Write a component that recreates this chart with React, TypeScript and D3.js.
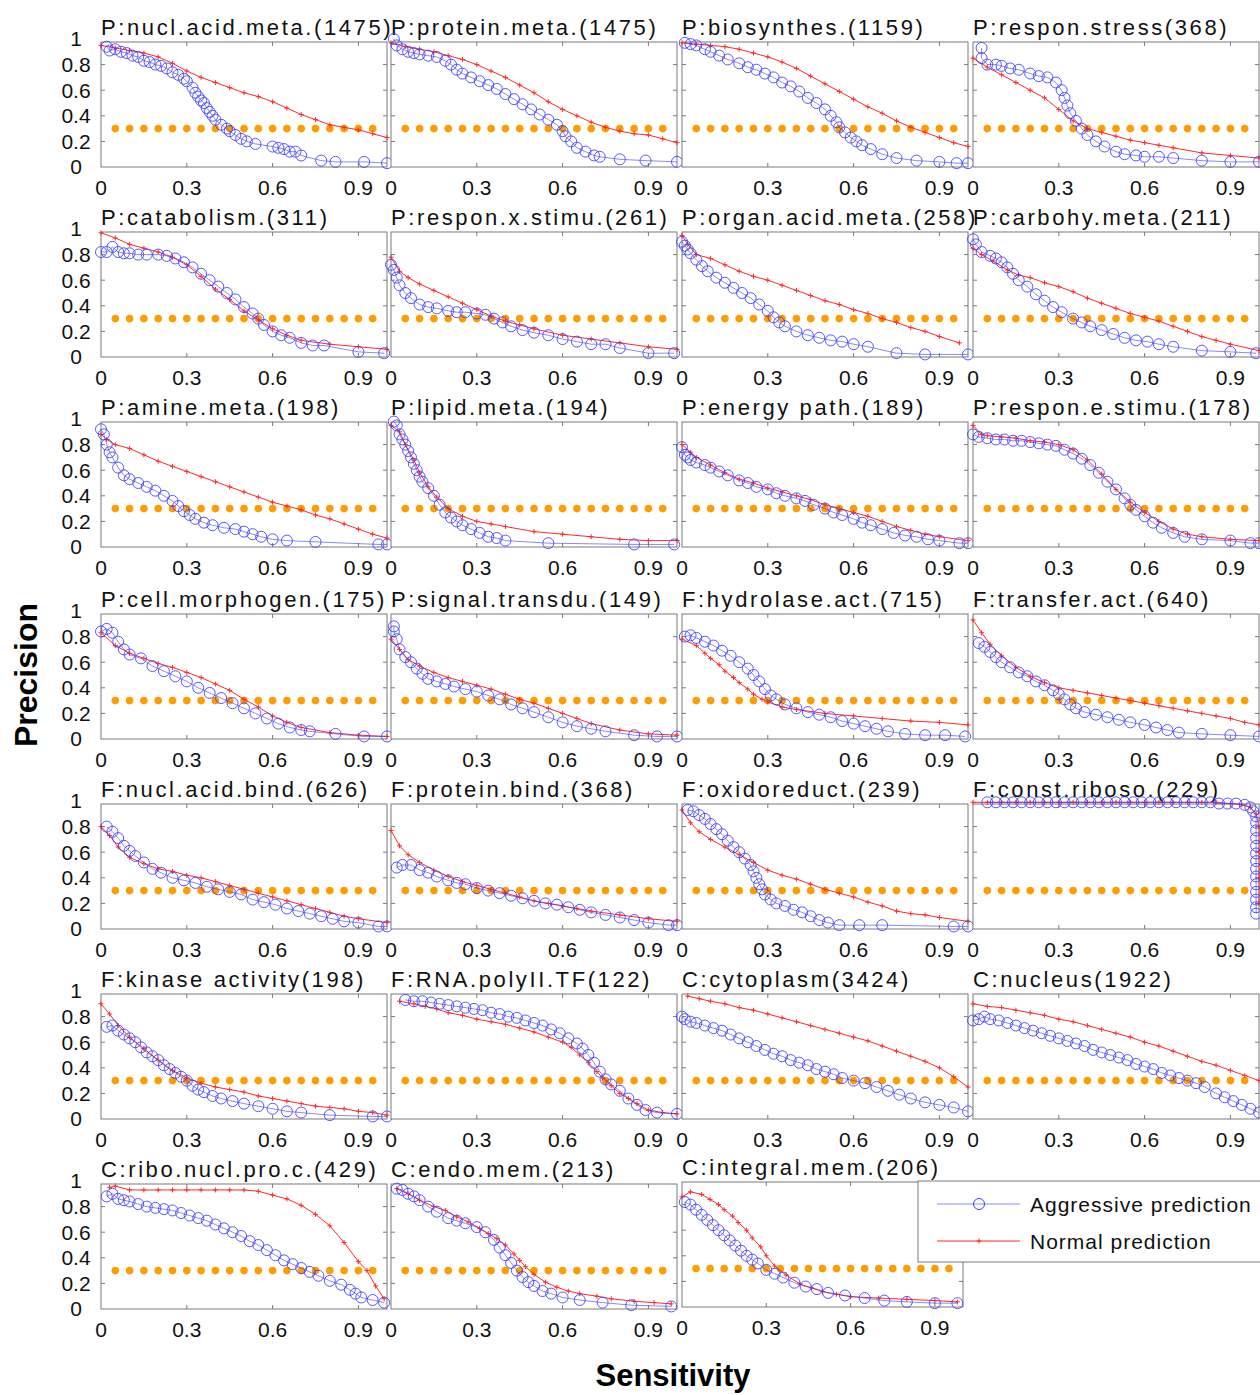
import React from 'react';
import * as d3 from 'd3';

// panel titles, row by row
const panelTitles = [
  'P:nucl.acid.meta.(1475)', 'P:protein.meta.(1475)', 'P:biosynthes.(1159)', 'P:respon.stress(368)',
  'P:catabolism.(311)', 'P:respon.x.stimu.(261)', 'P:organ.acid.meta.(258)', 'P:carbohy.meta.(211)',
  'P:amine.meta.(198)', 'P:lipid.meta.(194)', 'P:energy path.(189)', 'P:respon.e.stimu.(178)',
  'P:cell.morphogen.(175)', 'P:signal.transdu.(149)', 'F:hydrolase.act.(715)', 'F:transfer.act.(640)',
  'F:nucl.acid.bind.(626)', 'F:protein.bind.(368)', 'F:oxidoreduct.(239)', 'F:const.riboso.(229)',
  'F:kinase activity(198)', 'F:RNA.polyII.TF(122)', 'C:cytoplasm(3424)', 'C:nucleus(1922)',
  'C:ribo.nucl.pro.c.(429)', 'C:endo.mem.(213)', 'C:integral.mem.(206)',
];

// aggressive prediction: [sensitivity, precision]
const aggressive: number[][][] = [
  [[0.02,0.94],[0.03,0.91],[0.05,0.92],[0.07,0.9],[0.09,0.89],[0.11,0.87],[0.13,0.86],[0.15,0.83],[0.17,0.82],[0.19,0.8],[0.21,0.79],[0.23,0.77],[0.25,0.74],[0.27,0.72],[0.29,0.69],[0.3,0.67],[0.32,0.62],[0.33,0.58],[0.34,0.55],[0.35,0.52],[0.36,0.5],[0.37,0.46],[0.38,0.43],[0.39,0.4],[0.4,0.37],[0.42,0.33],[0.44,0.3],[0.45,0.28],[0.47,0.25],[0.49,0.22],[0.51,0.2],[0.54,0.18],[0.6,0.16],[0.62,0.15],[0.64,0.14],[0.66,0.12],[0.68,0.12],[0.7,0.09],[0.77,0.05],[0.82,0.04],[0.92,0.04],[1.0,0.03]],
  [[0.01,1.0],[0.02,0.95],[0.04,0.92],[0.06,0.9],[0.08,0.89],[0.1,0.88],[0.13,0.87],[0.16,0.86],[0.19,0.83],[0.21,0.8],[0.23,0.76],[0.25,0.73],[0.28,0.7],[0.31,0.67],[0.34,0.64],[0.37,0.61],[0.4,0.57],[0.43,0.53],[0.46,0.49],[0.49,0.45],[0.52,0.41],[0.55,0.37],[0.58,0.33],[0.6,0.28],[0.61,0.24],[0.63,0.2],[0.65,0.15],[0.68,0.12],[0.71,0.09],[0.73,0.08],[0.8,0.06],[0.89,0.05],[1.0,0.04]],
  [[0.01,0.97],[0.03,0.96],[0.05,0.95],[0.08,0.92],[0.1,0.9],[0.13,0.87],[0.16,0.84],[0.2,0.81],[0.23,0.78],[0.26,0.76],[0.29,0.73],[0.32,0.7],[0.35,0.66],[0.38,0.63],[0.41,0.59],[0.44,0.54],[0.47,0.5],[0.5,0.45],[0.52,0.4],[0.54,0.35],[0.55,0.31],[0.57,0.27],[0.59,0.23],[0.61,0.2],[0.63,0.17],[0.66,0.14],[0.7,0.1],[0.75,0.07],[0.82,0.05],[0.9,0.04],[0.96,0.03],[1.0,0.03]],
  [[0.03,0.93],[0.03,0.85],[0.05,0.8],[0.08,0.8],[0.1,0.79],[0.13,0.77],[0.16,0.76],[0.2,0.73],[0.23,0.71],[0.26,0.7],[0.29,0.66],[0.31,0.6],[0.32,0.54],[0.33,0.48],[0.34,0.42],[0.36,0.36],[0.38,0.3],[0.4,0.25],[0.43,0.2],[0.46,0.16],[0.5,0.12],[0.53,0.1],[0.57,0.09],[0.6,0.08],[0.65,0.08],[0.7,0.07],[0.8,0.05],[0.9,0.04],[1.0,0.04]],
  [[0.0,0.82],[0.02,0.82],[0.04,0.86],[0.06,0.82],[0.08,0.81],[0.1,0.81],[0.13,0.8],[0.16,0.8],[0.2,0.8],[0.23,0.79],[0.26,0.77],[0.29,0.74],[0.32,0.7],[0.35,0.65],[0.38,0.6],[0.41,0.55],[0.44,0.5],[0.47,0.45],[0.5,0.39],[0.53,0.34],[0.55,0.3],[0.57,0.25],[0.6,0.2],[0.63,0.17],[0.66,0.15],[0.7,0.11],[0.74,0.09],[0.78,0.09],[0.9,0.04],[0.99,0.03]],
  [[0.0,0.72],[0.01,0.68],[0.02,0.62],[0.03,0.56],[0.05,0.5],[0.07,0.46],[0.1,0.41],[0.13,0.39],[0.16,0.38],[0.2,0.36],[0.23,0.35],[0.26,0.35],[0.3,0.34],[0.33,0.33],[0.36,0.3],[0.39,0.27],[0.42,0.24],[0.46,0.21],[0.5,0.19],[0.55,0.17],[0.6,0.14],[0.65,0.12],[0.7,0.1],[0.75,0.1],[0.8,0.07],[0.9,0.03],[0.99,0.03]],
  [[0.0,0.9],[0.01,0.87],[0.02,0.84],[0.03,0.81],[0.05,0.76],[0.07,0.71],[0.09,0.67],[0.12,0.62],[0.15,0.58],[0.18,0.54],[0.21,0.5],[0.24,0.46],[0.27,0.41],[0.3,0.36],[0.32,0.31],[0.34,0.27],[0.36,0.24],[0.4,0.2],[0.44,0.17],[0.48,0.15],[0.52,0.13],[0.56,0.12],[0.6,0.1],[0.65,0.08],[0.75,0.03],[0.85,0.02],[1.0,0.02]],
  [[0.0,0.92],[0.01,0.88],[0.03,0.82],[0.06,0.79],[0.08,0.77],[0.1,0.74],[0.12,0.7],[0.14,0.65],[0.16,0.6],[0.19,0.55],[0.22,0.49],[0.25,0.44],[0.28,0.39],[0.31,0.35],[0.35,0.3],[0.38,0.27],[0.41,0.24],[0.45,0.21],[0.49,0.18],[0.53,0.15],[0.57,0.13],[0.61,0.12],[0.65,0.1],[0.7,0.08],[0.8,0.05],[0.9,0.04],[0.99,0.03]],
  [[0.0,0.92],[0.01,0.88],[0.02,0.8],[0.03,0.74],[0.04,0.7],[0.06,0.62],[0.08,0.56],[0.1,0.53],[0.13,0.5],[0.16,0.47],[0.19,0.44],[0.22,0.4],[0.25,0.36],[0.27,0.32],[0.29,0.28],[0.31,0.25],[0.33,0.22],[0.36,0.19],[0.39,0.17],[0.43,0.15],[0.47,0.14],[0.5,0.12],[0.53,0.1],[0.56,0.08],[0.6,0.06],[0.65,0.05],[0.75,0.04],[0.97,0.02],[1.0,0.02]],
  [[0.01,0.98],[0.02,0.95],[0.03,0.88],[0.04,0.84],[0.05,0.8],[0.06,0.75],[0.07,0.7],[0.08,0.65],[0.09,0.6],[0.1,0.55],[0.11,0.51],[0.13,0.46],[0.15,0.4],[0.17,0.33],[0.19,0.27],[0.21,0.23],[0.23,0.2],[0.25,0.17],[0.28,0.14],[0.31,0.11],[0.34,0.08],[0.37,0.07],[0.4,0.05],[0.55,0.03],[0.85,0.02],[0.99,0.02]],
  [[0.0,0.78],[0.01,0.72],[0.02,0.7],[0.03,0.68],[0.05,0.66],[0.08,0.64],[0.1,0.62],[0.13,0.59],[0.16,0.56],[0.2,0.52],[0.23,0.5],[0.26,0.47],[0.3,0.45],[0.33,0.42],[0.36,0.4],[0.4,0.38],[0.43,0.36],[0.46,0.33],[0.5,0.3],[0.53,0.27],[0.56,0.25],[0.6,0.22],[0.63,0.19],[0.66,0.17],[0.7,0.14],[0.74,0.11],[0.78,0.09],[0.82,0.08],[0.86,0.06],[0.9,0.05],[0.97,0.03],[1.0,0.03]],
  [[0.0,0.88],[0.02,0.86],[0.05,0.85],[0.08,0.84],[0.11,0.84],[0.14,0.83],[0.17,0.83],[0.2,0.82],[0.23,0.81],[0.26,0.8],[0.29,0.79],[0.32,0.76],[0.35,0.73],[0.38,0.69],[0.41,0.64],[0.44,0.58],[0.47,0.51],[0.5,0.45],[0.53,0.38],[0.55,0.33],[0.57,0.29],[0.6,0.24],[0.63,0.19],[0.66,0.15],[0.7,0.11],[0.74,0.08],[0.8,0.06],[0.9,0.05],[0.97,0.03],[1.0,0.03]],
  [[0.0,0.84],[0.02,0.86],[0.04,0.83],[0.06,0.76],[0.08,0.7],[0.1,0.66],[0.14,0.63],[0.18,0.57],[0.22,0.53],[0.26,0.49],[0.3,0.45],[0.34,0.4],[0.38,0.36],[0.42,0.32],[0.46,0.28],[0.5,0.24],[0.54,0.2],[0.58,0.16],[0.62,0.12],[0.66,0.09],[0.7,0.07],[0.73,0.06],[0.82,0.04],[0.92,0.02],[1.0,0.02]],
  [[0.01,0.88],[0.01,0.84],[0.02,0.78],[0.03,0.7],[0.05,0.64],[0.07,0.6],[0.09,0.55],[0.11,0.51],[0.13,0.47],[0.16,0.45],[0.19,0.43],[0.22,0.41],[0.26,0.39],[0.3,0.37],[0.34,0.34],[0.38,0.31],[0.42,0.27],[0.46,0.24],[0.5,0.21],[0.55,0.17],[0.6,0.13],[0.65,0.1],[0.7,0.08],[0.75,0.06],[0.85,0.03],[0.93,0.02],[1.0,0.02]],
  [[0.01,0.8],[0.03,0.81],[0.05,0.79],[0.08,0.76],[0.11,0.73],[0.14,0.69],[0.17,0.65],[0.2,0.6],[0.23,0.55],[0.25,0.5],[0.27,0.45],[0.29,0.39],[0.31,0.34],[0.33,0.31],[0.36,0.27],[0.4,0.24],[0.44,0.21],[0.48,0.19],[0.52,0.17],[0.56,0.14],[0.6,0.12],[0.64,0.1],[0.68,0.08],[0.72,0.06],[0.78,0.04],[0.85,0.03],[0.92,0.03],[0.99,0.02]],
  [[0.02,0.75],[0.04,0.72],[0.06,0.68],[0.08,0.64],[0.1,0.6],[0.13,0.56],[0.16,0.52],[0.19,0.49],[0.22,0.45],[0.25,0.42],[0.28,0.38],[0.3,0.35],[0.32,0.31],[0.34,0.27],[0.36,0.24],[0.39,0.21],[0.43,0.19],[0.47,0.17],[0.51,0.15],[0.55,0.13],[0.6,0.11],[0.64,0.09],[0.68,0.07],[0.72,0.05],[0.8,0.04],[0.9,0.03],[1.0,0.02]],
  [[0.02,0.8],[0.04,0.76],[0.06,0.71],[0.08,0.65],[0.1,0.61],[0.12,0.57],[0.15,0.52],[0.18,0.47],[0.21,0.44],[0.25,0.4],[0.29,0.38],[0.33,0.36],[0.37,0.33],[0.41,0.31],[0.45,0.29],[0.49,0.27],[0.53,0.23],[0.57,0.21],[0.61,0.19],[0.65,0.16],[0.69,0.14],[0.73,0.12],[0.77,0.1],[0.81,0.08],[0.85,0.06],[0.9,0.05],[0.97,0.02],[1.0,0.02]],
  [[0.02,0.48],[0.04,0.5],[0.07,0.5],[0.1,0.46],[0.13,0.44],[0.16,0.41],[0.2,0.38],[0.23,0.36],[0.26,0.35],[0.3,0.32],[0.34,0.3],[0.38,0.28],[0.42,0.26],[0.46,0.24],[0.5,0.22],[0.54,0.2],[0.58,0.19],[0.62,0.17],[0.66,0.15],[0.7,0.13],[0.75,0.11],[0.8,0.09],[0.85,0.07],[0.9,0.05],[0.97,0.03],[1.0,0.03]],
  [[0.02,0.93],[0.04,0.92],[0.06,0.89],[0.08,0.86],[0.1,0.82],[0.12,0.78],[0.14,0.74],[0.16,0.69],[0.18,0.64],[0.2,0.6],[0.22,0.55],[0.24,0.5],[0.25,0.45],[0.26,0.4],[0.27,0.35],[0.28,0.31],[0.29,0.27],[0.31,0.23],[0.33,0.2],[0.36,0.18],[0.39,0.15],[0.42,0.13],[0.45,0.1],[0.48,0.07],[0.51,0.05],[0.55,0.03],[0.62,0.03],[0.7,0.03],[0.95,0.02],[1.0,0.02]],
  [[0.05,0.99],[0.08,0.99],[0.11,0.99],[0.14,0.99],[0.17,0.99],[0.2,0.99],[0.23,0.99],[0.26,0.99],[0.29,0.99],[0.32,0.99],[0.35,0.99],[0.38,0.99],[0.41,0.99],[0.44,0.99],[0.47,0.99],[0.5,0.99],[0.53,0.99],[0.56,0.99],[0.59,0.99],[0.62,0.99],[0.65,0.99],[0.68,0.99],[0.71,0.99],[0.74,0.99],[0.77,0.99],[0.8,0.99],[0.83,0.99],[0.86,0.98],[0.89,0.98],[0.92,0.98],[0.95,0.97],[0.97,0.95],[0.98,0.92],[0.99,0.88],[0.99,0.83],[0.99,0.77],[0.99,0.71],[0.99,0.65],[0.99,0.59],[0.99,0.53],[0.99,0.47],[0.99,0.41],[0.99,0.35],[0.99,0.29],[0.99,0.23],[0.99,0.17],[0.99,0.12]],
  [[0.02,0.72],[0.04,0.73],[0.06,0.69],[0.08,0.66],[0.1,0.63],[0.12,0.6],[0.14,0.56],[0.16,0.52],[0.18,0.49],[0.2,0.46],[0.22,0.42],[0.24,0.39],[0.26,0.36],[0.28,0.33],[0.3,0.3],[0.32,0.26],[0.34,0.23],[0.36,0.21],[0.39,0.18],[0.42,0.16],[0.46,0.14],[0.5,0.12],[0.55,0.1],[0.6,0.08],[0.65,0.06],[0.7,0.05],[0.8,0.03],[0.95,0.02],[1.0,0.02]],
  [[0.05,0.93],[0.08,0.92],[0.11,0.92],[0.14,0.91],[0.17,0.9],[0.2,0.89],[0.23,0.88],[0.26,0.87],[0.29,0.86],[0.32,0.85],[0.35,0.83],[0.38,0.82],[0.41,0.8],[0.44,0.79],[0.47,0.77],[0.5,0.75],[0.53,0.73],[0.56,0.7],[0.59,0.67],[0.62,0.63],[0.65,0.59],[0.67,0.55],[0.69,0.5],[0.71,0.44],[0.73,0.37],[0.75,0.31],[0.77,0.27],[0.8,0.22],[0.83,0.16],[0.86,0.11],[0.89,0.07],[0.93,0.05],[1.0,0.04]],
  [[0.0,0.8],[0.01,0.78],[0.03,0.76],[0.05,0.75],[0.08,0.73],[0.11,0.71],[0.14,0.69],[0.17,0.66],[0.2,0.63],[0.23,0.6],[0.26,0.57],[0.29,0.54],[0.32,0.51],[0.35,0.49],[0.38,0.46],[0.41,0.44],[0.44,0.42],[0.47,0.39],[0.5,0.37],[0.53,0.35],[0.56,0.32],[0.6,0.3],[0.64,0.28],[0.68,0.25],[0.72,0.22],[0.76,0.19],[0.8,0.16],[0.85,0.13],[0.9,0.11],[0.95,0.09],[1.0,0.06]],
  [[0.0,0.77],[0.02,0.78],[0.04,0.8],[0.06,0.78],[0.09,0.77],[0.12,0.75],[0.15,0.73],[0.18,0.71],[0.21,0.69],[0.24,0.67],[0.27,0.65],[0.3,0.63],[0.33,0.61],[0.36,0.59],[0.39,0.57],[0.42,0.54],[0.45,0.52],[0.48,0.5],[0.51,0.48],[0.54,0.46],[0.57,0.43],[0.6,0.41],[0.63,0.39],[0.66,0.36],[0.69,0.34],[0.72,0.32],[0.75,0.3],[0.78,0.28],[0.81,0.25],[0.85,0.2],[0.88,0.17],[0.91,0.14],[0.94,0.11],[0.97,0.08],[1.0,0.05]],
  [[0.02,0.88],[0.04,0.9],[0.06,0.86],[0.08,0.85],[0.1,0.84],[0.13,0.82],[0.16,0.8],[0.19,0.79],[0.22,0.78],[0.25,0.77],[0.28,0.75],[0.31,0.73],[0.34,0.71],[0.37,0.69],[0.4,0.66],[0.43,0.63],[0.46,0.6],[0.49,0.57],[0.52,0.53],[0.55,0.5],[0.58,0.46],[0.61,0.42],[0.64,0.38],[0.67,0.35],[0.7,0.32],[0.73,0.29],[0.76,0.26],[0.8,0.22],[0.84,0.19],[0.87,0.15],[0.89,0.12],[0.91,0.09],[0.95,0.07],[0.99,0.05]],
  [[0.02,0.94],[0.04,0.93],[0.06,0.9],[0.08,0.88],[0.1,0.85],[0.13,0.8],[0.16,0.76],[0.2,0.71],[0.23,0.69],[0.26,0.67],[0.3,0.64],[0.33,0.6],[0.36,0.54],[0.38,0.48],[0.4,0.42],[0.42,0.36],[0.44,0.3],[0.46,0.25],[0.48,0.21],[0.5,0.18],[0.53,0.14],[0.56,0.12],[0.6,0.09],[0.66,0.07],[0.74,0.05],[0.84,0.03],[0.98,0.02]],
  [[0.01,0.82],[0.03,0.8],[0.05,0.76],[0.07,0.72],[0.09,0.68],[0.11,0.64],[0.13,0.6],[0.15,0.56],[0.17,0.52],[0.19,0.48],[0.21,0.44],[0.23,0.4],[0.25,0.37],[0.27,0.34],[0.3,0.29],[0.33,0.26],[0.36,0.23],[0.4,0.19],[0.44,0.16],[0.48,0.14],[0.52,0.11],[0.58,0.09],[0.65,0.07],[0.72,0.05],[0.8,0.04],[0.9,0.03],[0.98,0.03]],
];

// normal prediction: [sensitivity, precision]
const normal: number[][][] = [
  [[0.0,0.95],[0.05,0.93],[0.1,0.91],[0.15,0.89],[0.2,0.86],[0.25,0.81],[0.3,0.75],[0.35,0.7],[0.4,0.66],[0.45,0.62],[0.5,0.58],[0.55,0.55],[0.6,0.51],[0.65,0.46],[0.7,0.41],[0.75,0.37],[0.8,0.33],[0.85,0.31],[0.9,0.29],[0.95,0.26],[1.0,0.23]],
  [[0.0,0.97],[0.05,0.94],[0.1,0.92],[0.15,0.9],[0.2,0.87],[0.25,0.84],[0.3,0.8],[0.35,0.75],[0.4,0.7],[0.45,0.64],[0.5,0.58],[0.55,0.51],[0.6,0.45],[0.65,0.4],[0.7,0.35],[0.75,0.31],[0.8,0.28],[0.85,0.26],[0.9,0.25],[0.95,0.22],[1.0,0.19]],
  [[0.0,0.97],[0.05,0.96],[0.1,0.95],[0.15,0.94],[0.2,0.92],[0.25,0.89],[0.3,0.86],[0.35,0.82],[0.4,0.77],[0.45,0.71],[0.5,0.65],[0.55,0.59],[0.6,0.53],[0.65,0.47],[0.7,0.42],[0.75,0.36],[0.8,0.31],[0.85,0.27],[0.9,0.23],[0.95,0.19],[1.0,0.16]],
  [[0.0,0.85],[0.05,0.78],[0.1,0.72],[0.15,0.66],[0.2,0.6],[0.25,0.54],[0.3,0.45],[0.35,0.36],[0.4,0.3],[0.45,0.27],[0.5,0.24],[0.55,0.21],[0.6,0.19],[0.65,0.17],[0.7,0.15],[0.8,0.11],[0.9,0.09],[1.0,0.07]],
  [[0.0,0.97],[0.05,0.93],[0.1,0.88],[0.15,0.85],[0.2,0.82],[0.25,0.78],[0.3,0.72],[0.35,0.63],[0.4,0.53],[0.45,0.45],[0.5,0.36],[0.55,0.29],[0.6,0.22],[0.65,0.17],[0.7,0.13],[0.8,0.1],[0.9,0.08],[1.0,0.06]],
  [[0.0,0.78],[0.03,0.67],[0.06,0.62],[0.1,0.57],[0.15,0.52],[0.2,0.47],[0.25,0.42],[0.3,0.37],[0.35,0.32],[0.4,0.28],[0.45,0.25],[0.5,0.22],[0.6,0.17],[0.7,0.14],[0.8,0.11],[0.9,0.08],[1.0,0.06]],
  [[0.0,0.95],[0.02,0.88],[0.05,0.8],[0.1,0.77],[0.15,0.72],[0.2,0.67],[0.25,0.63],[0.3,0.6],[0.35,0.56],[0.4,0.52],[0.45,0.48],[0.5,0.44],[0.55,0.41],[0.6,0.37],[0.65,0.34],[0.7,0.3],[0.75,0.27],[0.8,0.23],[0.85,0.2],[0.9,0.16],[0.97,0.11]],
  [[0.0,0.85],[0.03,0.8],[0.07,0.75],[0.12,0.68],[0.16,0.64],[0.2,0.62],[0.25,0.58],[0.3,0.55],[0.35,0.51],[0.4,0.46],[0.45,0.42],[0.5,0.38],[0.55,0.34],[0.6,0.31],[0.65,0.28],[0.7,0.24],[0.75,0.2],[0.8,0.16],[0.85,0.13],[0.9,0.1],[1.0,0.05]],
  [[0.0,0.88],[0.02,0.84],[0.05,0.8],[0.1,0.77],[0.15,0.72],[0.2,0.67],[0.25,0.63],[0.3,0.59],[0.35,0.55],[0.4,0.51],[0.45,0.47],[0.5,0.43],[0.55,0.39],[0.6,0.35],[0.65,0.32],[0.7,0.29],[0.75,0.25],[0.8,0.22],[0.85,0.18],[0.9,0.14],[0.95,0.1],[1.0,0.07]],
  [[0.0,0.95],[0.03,0.9],[0.05,0.8],[0.08,0.68],[0.1,0.58],[0.13,0.47],[0.16,0.39],[0.2,0.3],[0.25,0.24],[0.3,0.2],[0.35,0.18],[0.4,0.16],[0.5,0.12],[0.6,0.1],[0.7,0.08],[0.8,0.06],[0.9,0.05],[1.0,0.05]],
  [[0.0,0.8],[0.03,0.74],[0.05,0.7],[0.1,0.64],[0.15,0.58],[0.2,0.53],[0.25,0.5],[0.3,0.46],[0.35,0.43],[0.4,0.4],[0.45,0.37],[0.5,0.33],[0.55,0.3],[0.6,0.27],[0.65,0.24],[0.7,0.2],[0.75,0.16],[0.8,0.13],[0.85,0.1],[0.9,0.08],[1.0,0.05]],
  [[0.0,0.95],[0.03,0.88],[0.05,0.87],[0.1,0.86],[0.15,0.85],[0.2,0.83],[0.25,0.82],[0.3,0.8],[0.35,0.76],[0.4,0.68],[0.45,0.57],[0.5,0.45],[0.55,0.35],[0.6,0.27],[0.65,0.2],[0.7,0.14],[0.75,0.1],[0.8,0.08],[0.9,0.06],[1.0,0.05]],
  [[0.0,0.83],[0.05,0.73],[0.1,0.67],[0.15,0.63],[0.2,0.59],[0.25,0.56],[0.3,0.52],[0.35,0.48],[0.4,0.43],[0.45,0.38],[0.5,0.31],[0.55,0.25],[0.6,0.18],[0.65,0.13],[0.7,0.09],[0.8,0.05],[0.9,0.03],[1.0,0.02]],
  [[0.0,0.78],[0.03,0.7],[0.06,0.62],[0.1,0.57],[0.15,0.52],[0.2,0.48],[0.25,0.45],[0.3,0.42],[0.35,0.39],[0.4,0.35],[0.45,0.31],[0.5,0.28],[0.55,0.24],[0.6,0.2],[0.65,0.16],[0.7,0.12],[0.8,0.07],[0.9,0.04],[1.0,0.03]],
  [[0.0,0.78],[0.05,0.73],[0.08,0.67],[0.1,0.63],[0.13,0.58],[0.15,0.53],[0.18,0.48],[0.2,0.44],[0.23,0.39],[0.25,0.35],[0.28,0.31],[0.3,0.29],[0.35,0.25],[0.4,0.23],[0.5,0.2],[0.6,0.18],[0.7,0.16],[0.8,0.14],[0.9,0.13],[1.0,0.11]],
  [[0.0,0.93],[0.03,0.83],[0.06,0.74],[0.1,0.65],[0.15,0.56],[0.2,0.49],[0.25,0.44],[0.3,0.4],[0.35,0.38],[0.4,0.36],[0.45,0.34],[0.5,0.32],[0.55,0.3],[0.6,0.28],[0.65,0.26],[0.7,0.24],[0.75,0.22],[0.8,0.2],[0.85,0.18],[0.9,0.16],[0.95,0.13],[1.0,0.11]],
  [[0.0,0.8],[0.03,0.73],[0.06,0.64],[0.1,0.56],[0.15,0.51],[0.2,0.47],[0.25,0.45],[0.3,0.42],[0.35,0.4],[0.4,0.37],[0.45,0.34],[0.5,0.31],[0.55,0.28],[0.6,0.25],[0.65,0.22],[0.7,0.19],[0.75,0.16],[0.8,0.13],[0.85,0.1],[0.9,0.08],[1.0,0.05]],
  [[0.0,0.77],[0.03,0.65],[0.06,0.58],[0.1,0.52],[0.15,0.46],[0.2,0.41],[0.25,0.37],[0.3,0.34],[0.35,0.31],[0.4,0.28],[0.45,0.25],[0.5,0.22],[0.55,0.2],[0.6,0.18],[0.65,0.16],[0.7,0.14],[0.8,0.11],[0.9,0.08],[1.0,0.06]],
  [[0.0,0.93],[0.03,0.83],[0.06,0.76],[0.1,0.7],[0.15,0.64],[0.2,0.58],[0.25,0.52],[0.3,0.46],[0.35,0.42],[0.4,0.39],[0.45,0.35],[0.5,0.31],[0.55,0.28],[0.6,0.25],[0.65,0.21],[0.7,0.18],[0.75,0.14],[0.8,0.12],[0.85,0.11],[0.9,0.09],[1.0,0.06]],
  [[0.0,0.99],[0.05,0.99],[0.1,0.99],[0.15,0.99],[0.2,0.99],[0.25,0.99],[0.3,0.99],[0.35,0.99],[0.4,0.99],[0.45,0.99],[0.5,0.99],[0.55,0.99],[0.6,0.99],[0.65,0.99],[0.7,0.99],[0.75,0.99],[0.8,0.99],[0.85,0.99],[0.9,0.98],[0.94,0.97],[0.97,0.95],[0.99,0.9],[1.0,0.8],[1.0,0.6],[1.0,0.4],[1.0,0.2]],
  [[0.0,0.9],[0.03,0.82],[0.06,0.73],[0.1,0.64],[0.15,0.55],[0.2,0.46],[0.25,0.38],[0.3,0.32],[0.35,0.28],[0.4,0.25],[0.45,0.23],[0.5,0.21],[0.55,0.18],[0.6,0.16],[0.65,0.14],[0.7,0.12],[0.75,0.1],[0.8,0.09],[0.85,0.08],[0.9,0.06],[0.95,0.05],[1.0,0.03]],
  [[0.03,0.92],[0.08,0.9],[0.12,0.88],[0.16,0.86],[0.2,0.83],[0.25,0.81],[0.3,0.78],[0.35,0.76],[0.4,0.74],[0.45,0.71],[0.5,0.68],[0.55,0.64],[0.6,0.6],[0.63,0.56],[0.66,0.5],[0.69,0.44],[0.72,0.37],[0.74,0.32],[0.77,0.26],[0.8,0.2],[0.83,0.16],[0.86,0.12],[0.9,0.07],[0.95,0.05],[1.0,0.04]],
  [[0.02,0.96],[0.06,0.94],[0.1,0.92],[0.15,0.9],[0.2,0.87],[0.25,0.85],[0.3,0.82],[0.35,0.79],[0.4,0.76],[0.45,0.73],[0.5,0.7],[0.55,0.67],[0.6,0.64],[0.65,0.61],[0.7,0.57],[0.75,0.53],[0.8,0.49],[0.85,0.45],[0.9,0.4],[0.95,0.33],[1.0,0.25]],
  [[0.0,0.9],[0.05,0.88],[0.1,0.87],[0.15,0.85],[0.2,0.83],[0.25,0.81],[0.3,0.78],[0.35,0.76],[0.4,0.73],[0.45,0.7],[0.5,0.67],[0.55,0.64],[0.6,0.6],[0.65,0.57],[0.7,0.53],[0.75,0.49],[0.8,0.45],[0.85,0.42],[0.9,0.38],[0.95,0.34],[1.0,0.3]],
  [[0.03,0.95],[0.05,0.96],[0.1,0.93],[0.15,0.93],[0.2,0.93],[0.25,0.93],[0.3,0.93],[0.35,0.93],[0.4,0.93],[0.45,0.93],[0.5,0.93],[0.55,0.92],[0.6,0.89],[0.65,0.86],[0.7,0.81],[0.75,0.74],[0.8,0.65],[0.85,0.52],[0.9,0.37],[0.93,0.3],[0.96,0.18],[0.99,0.08]],
  [[0.02,0.94],[0.06,0.9],[0.1,0.85],[0.15,0.8],[0.19,0.77],[0.23,0.72],[0.27,0.68],[0.31,0.63],[0.34,0.59],[0.37,0.55],[0.4,0.5],[0.43,0.43],[0.45,0.38],[0.47,0.33],[0.5,0.27],[0.54,0.21],[0.58,0.17],[0.62,0.14],[0.66,0.12],[0.72,0.1],[0.77,0.08],[0.85,0.06],[0.92,0.05],[0.98,0.04]],
  [[0.0,0.86],[0.03,0.9],[0.07,0.88],[0.1,0.84],[0.13,0.8],[0.15,0.76],[0.18,0.71],[0.2,0.66],[0.23,0.6],[0.25,0.54],[0.28,0.47],[0.3,0.4],[0.33,0.32],[0.37,0.25],[0.42,0.18],[0.46,0.15],[0.5,0.12],[0.55,0.1],[0.6,0.08],[0.7,0.07],[0.8,0.06],[0.9,0.05],[0.98,0.04]],
];

// orange reference level, sampled markers
const baselineX = [0.05, 0.1, 0.15, 0.2, 0.25, 0.3, 0.35, 0.4, 0.45, 0.5, 0.55, 0.6, 0.65, 0.7, 0.75, 0.8, 0.85, 0.9, 0.95];
const baselineY = 0.3;

const xTicks = [0, 0.3, 0.6, 0.9];
const yTicks = [0, 0.2, 0.4, 0.6, 0.8, 1];
const legendLabels = ['Aggressive prediction', 'Normal prediction'];

const colLeft = [101, 391, 682, 973];
const rowBottom = [167, 357, 547, 739, 929, 1119, 1309];

const FONT = "'Liberation Sans', Arial, sans-serif";
const BLUE = '#3c3cff';
const RED = '#ff2a2a';
const ORANGE = '#ff9c00';
const BOX = '#7a7a7a';

function Panel({ index }: { index: number }) {
  const row = Math.floor(index / 4);
  const col = index % 4;
  const left = colLeft[col];
  const last = index === 26;
  const w = last ? 281 : 286;
  const bottom = rowBottom[row] - (last ? 2 : 0);

  const x = d3.scaleLinear().domain([0, 1]).range([left, left + w]);
  const y = d3.scaleLinear().domain([0, 1]).range([bottom, bottom - 128]);
  const top = bottom - 125;

  const line = d3.line<number[]>().x(d => x(d[0])).y(d => y(d[1]));
  const blue = aggressive[index];
  const red = normal[index];

  return (
    <g>
      <rect x={left} y={top} width={w} height={bottom - top} fill="#fff" stroke={BOX} strokeWidth={1} />
      {xTicks.slice(1).map(t => (
        <g key={'xt' + t}>
          <line x1={x(t)} x2={x(t)} y1={bottom} y2={bottom - 4} stroke={BOX} />
          <line x1={x(t)} x2={x(t)} y1={top} y2={top + 4} stroke={BOX} />
        </g>
      ))}
      {yTicks.slice(1, -1).map(t => (
        <g key={'yt' + t}>
          <line x1={left} x2={left + 4} y1={y(t)} y2={y(t)} stroke={BOX} />
          <line x1={left + w} x2={left + w - 4} y1={y(t)} y2={y(t)} stroke={BOX} />
        </g>
      ))}
      {xTicks.map(t => (
        <text key={'xl' + t} x={x(t)} y={bottom + 28} textAnchor="middle" fontSize={21} fontFamily={FONT} fill="#111">
          {t === 0 ? '0' : t.toFixed(1)}
        </text>
      ))}
      {col === 0 && yTicks.map(t => (
        <text key={'yl' + t} x={left - 25} y={y(t)} dy="0.35em" textAnchor="middle" fontSize={21} fontFamily={FONT} fill="#111">
          {t === 0 || t === 1 ? String(t) : t.toFixed(1)}
        </text>
      ))}
      <text x={left} y={bottom - 132} fontSize={22} letterSpacing={2.6} fontFamily={FONT} fill="#111">
        {panelTitles[index]}
      </text>
      {baselineX.map(b => (
        <circle key={'o' + b} cx={x(b)} cy={y(baselineY)} r={3.8} fill={ORANGE} />
      ))}
      <path d={line(red) || ''} fill="none" stroke={RED} strokeWidth={1} />
      {red.map((d, i) => (
        <path key={'r' + i} d={`M${x(d[0]) - 2.5},${y(d[1])}h5M${x(d[0])},${y(d[1]) - 2.5}v5`} stroke={RED} strokeWidth={1} />
      ))}
      <path d={line(blue) || ''} fill="none" stroke={BLUE} strokeOpacity={0.6} strokeWidth={1} />
      {blue.map((d, i) => (
        <circle key={'b' + i} cx={x(d[0])} cy={y(d[1])} r={5.5} fill="none" stroke={BLUE} strokeWidth={1} strokeOpacity={0.85} />
      ))}
    </g>
  );
}

export default function App() {
  return (
    <svg width={1260} height={1395} style={{ position: 'absolute', left: 0, top: 0, background: '#fff' }}>
      <rect width={1260} height={1395} fill="#fff" />
      {panelTitles.map((_, i) => <Panel key={i} index={i} />)}

      <g>
        <rect x={918} y={1181} width={345} height={81} fill="#fff" stroke={BOX} strokeWidth={1} />
        <line x1={937} x2={1020} y1={1204} y2={1204} stroke={BLUE} strokeOpacity={0.6} />
        <circle cx={979} cy={1204} r={5.5} fill="none" stroke={BLUE} />
        <text x={1030} y={1212} fontSize={21} letterSpacing={1} fontFamily={FONT} fill="#111">{legendLabels[0]}</text>
        <line x1={937} x2={1020} y1={1241} y2={1241} stroke={RED} />
        <path d="M976.5,1241h5M979,1238.5v5" stroke={RED} />
        <text x={1030} y={1249} fontSize={21} letterSpacing={1} fontFamily={FONT} fill="#111">{legendLabels[1]}</text>
      </g>

      <text transform="translate(37,675) rotate(-90)" textAnchor="middle" fontSize={32} fontWeight="bold" fontFamily={FONT} fill="#000">
        Precision
      </text>
      <text x={673} y={1386} textAnchor="middle" fontSize={31} fontWeight="bold" fontFamily={FONT} fill="#000">
        Sensitivity
      </text>
    </svg>
  );
}
